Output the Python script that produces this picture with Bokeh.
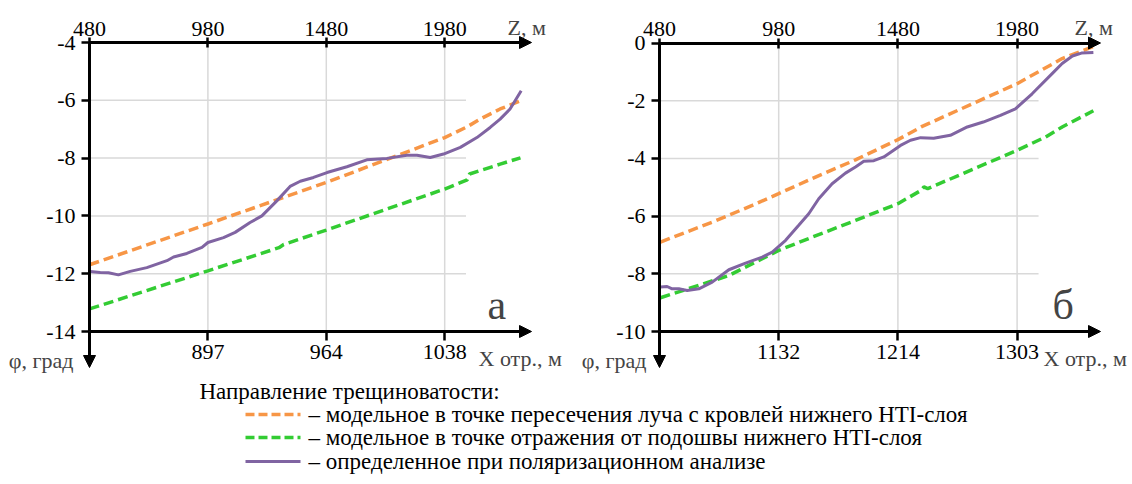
from bokeh.plotting import figure
from bokeh.models import Range1d, LinearAxis, FixedTicker, Label, Arrow, NormalHead
from bokeh.layouts import column, row
from bokeh.embed import file_html
from bokeh.resources import INLINE
from bokeh.core.properties import value

FONT = "Liberation Serif"
ORANGE = "#f79646"
GREEN = "#33cc33"
PURPLE = "#8064a2"
GRID = "#d9d9d9"

# ---- data ----
z_ticks = [480, 980, 1480, 1980]
x_labels_a = ["897", "964", "1038"]
x_labels_b = ["1132", "1214", "1303"]
phi_ticks_a = [-14, -12, -10, -8, -6, -4]
phi_ticks_b = [-10, -8, -6, -4, -2, 0]

a_orange_z = [480, 980, 1480, 1980, 2074, 2130, 2214, 2300]
a_orange_phi = [-11.69, -10.28, -8.84, -7.29, -6.92, -6.65, -6.30, -6.02]

a_green_z = [480, 980, 1280, 1300, 1480, 1980, 2075, 2085, 2214, 2300]
a_green_phi = [-13.22, -11.90, -11.10, -10.99, -10.49, -9.07, -8.75, -8.55, -8.21, -7.99]

a_purple_z = [483, 525, 560, 602, 652, 722, 807, 835, 891, 955, 980, 1046, 1095,
              1158, 1208, 1271, 1327, 1370, 1426, 1483, 1567, 1651, 1736, 1820,
              1863, 1919, 1975, 2046, 2116, 2172, 2214, 2256, 2303]
a_purple_phi = [-11.92, -11.96, -11.97, -12.04, -11.92, -11.79, -11.55, -11.42, -11.30,
                -11.09, -10.92, -10.75, -10.57, -10.23, -10.00, -9.48, -8.98, -8.80,
                -8.67, -8.50, -8.30, -8.06, -8.01, -7.90, -7.90, -7.98, -7.86, -7.63,
                -7.29, -6.94, -6.65, -6.30, -5.67]

b_orange_z = [484, 701, 869, 980, 1120, 1302, 1480, 1582, 1980, 2169, 2300]
b_orange_phi = [-6.90, -6.21, -5.63, -5.22, -4.70, -4.05, -3.35, -2.89, -1.41, -0.54, -0.12]

b_green_z = [484, 645, 771, 980, 1120, 1302, 1480, 1575, 1589, 1605, 1980, 2099, 2169, 2300]
b_green_phi = [-8.83, -8.40, -8.06, -7.19, -6.73, -6.15, -5.57, -5.12, -4.99, -5.05,
               -3.72, -3.26, -2.91, -2.35]

b_purple_z = [484, 512, 533, 561, 596, 645, 701, 771, 841, 911, 953, 1009, 1064, 1106,
              1148, 1204, 1260, 1302, 1337, 1379, 1421, 1491, 1533, 1575, 1630, 1700,
              1771, 1838, 1910, 1973, 2043, 2127, 2169, 2212, 2250, 2300]
b_purple_phi = [-8.46, -8.44, -8.52, -8.52, -8.58, -8.52, -8.29, -7.86, -7.63, -7.42,
                -7.25, -6.84, -6.32, -5.92, -5.40, -4.88, -4.51, -4.30, -4.10, -4.08,
                -3.95, -3.55, -3.37, -3.28, -3.30, -3.20, -2.91, -2.74, -2.51, -2.28,
                -1.76, -1.06, -0.71, -0.45, -0.35, -0.33]

legend_title = "Направление трещиноватости:"
legend_texts = [
    "– модельное в точке пересечения луча с кровлей нижнего HTI-слоя",
    "– модельное в точке отражения от подошвы нижнего HTI-слоя",
    "– определенное при поляризационном анализе",
]

GRID_END = 2070
PANEL_H = 380


def style_axis(ax, tick_in, tick_out, standoff):
    ax.axis_line_width = 3
    ax.axis_line_color = "black"
    ax.major_tick_line_width = 2.5
    ax.major_tick_line_color = "black"
    ax.major_tick_in = tick_in
    ax.major_tick_out = tick_out
    ax.minor_tick_line_color = None
    ax.major_label_text_font = FONT
    ax.major_label_text_font_size = "22px"
    ax.major_label_text_color = "black"
    ax.major_label_standoff = standoff


def make_panel(geo, y_ticks, x_labels, orange, green, purple, letter, pos):
    x0_page, width, axis_px, z_per_px, top_px, px_per_phi = geo
    ymin, ymax = y_ticks[0], y_ticks[-1]

    def Z(px):
        return 480 + (px - axis_px) * z_per_px

    def PHI(py):
        return ymax - (py - top_px) / px_per_phi

    z_tip = Z(pos["tip"])
    p = figure(width=width, height=PANEL_H, min_border=0,
               x_range=Range1d(Z(x0_page), Z(x0_page + width)),
               y_range=Range1d(PHI(PANEL_H), PHI(0)),
               x_axis_type=None, y_axis_type=None, toolbar_location=None,
               output_backend="svg", outline_line_color=None,
               background_fill_color="white", border_fill_color="white")
    inner = y_ticks[1:-1]
    p.segment(x0=[480] * len(inner), y0=inner, x1=[GRID_END] * len(inner), y1=inner,
              line_color=GRID, line_width=1.5)
    vx = z_ticks[1:]
    p.segment(x0=vx, y0=[ymin] * len(vx), x1=vx, y1=[ymax] * len(vx),
              line_color=GRID, line_width=1.5)

    p.line(orange[0], orange[1], line_color=ORANGE, line_width=3.5, line_dash="10 5")
    p.line(green[0], green[1], line_color=GREEN, line_width=3.5, line_dash="10 5")
    p.line(purple[0], purple[1], line_color=PURPLE, line_width=3)

    left = LinearAxis(ticker=FixedTicker(ticks=y_ticks), fixed_location=480,
                      bounds=(ymin, ymax),
                      major_label_overrides={t: str(t) for t in y_ticks})
    style_axis(left, 0, 8, 6)
    top = LinearAxis(ticker=FixedTicker(ticks=z_ticks), fixed_location=ymax,
                     bounds=(480, Z(pos["tip"] - 6)))
    style_axis(top, 5, 5, 2)
    bottom = LinearAxis(ticker=FixedTicker(ticks=z_ticks[1:]), fixed_location=ymin,
                        bounds=(480, Z(pos["tip"] - 6)),
                        major_label_overrides={z: s for z, s in zip(z_ticks[1:], x_labels)})
    style_axis(bottom, 0, 9, 4)
    p.add_layout(left, "left")
    p.add_layout(top, "above")
    p.add_layout(bottom, "below")

    for yy in (ymin, ymax):
        p.add_layout(Arrow(end=NormalHead(size=12, fill_color="black", line_color="black"),
                           x_start=Z(pos["tip"] - 8), y_start=yy, x_end=z_tip, y_end=yy,
                           line_width=3, line_color="black"))
    p.add_layout(Arrow(end=NormalHead(size=12, fill_color="black", line_color="black"),
                       x_start=480, y_start=ymin, x_end=480, y_end=PHI(pos["down_tip"]),
                       line_width=3, line_color="black"))

    p.add_layout(Label(x=Z(pos["zlab"]), y=PHI(27), text="Z, м", text_font=FONT,
                       text_font_size="22px", text_baseline="middle", text_align="left"))
    p.add_layout(Label(x=Z(pos["xlab"]), y=PHI(358), text="X отр., м", text_font=FONT,
                       text_font_size="22px", text_baseline="middle", text_align="left"))
    p.add_layout(Label(x=Z(pos["philab"]), y=PHI(360), text="φ, град", text_font=FONT,
                       text_font_size="22px", text_baseline="middle", text_align="right"))
    p.add_layout(Label(x=Z(pos["letter"][0]), y=PHI(pos["letter"][1]), text=letter,
                       text_font=FONT, text_font_size="42px",
                       text_baseline="alphabetic", text_align="left"))
    return p


# geometry: (page x of canvas, canvas width, page x of phi axis, Z per px, page y of top axis, px per degree)
geo_a = (0, 566, 89, 500 / 118.4, 42, 28.9)
geo_b = (566, 564, 659, 500 / 119.2, 42.5, 28.85)

p1 = make_panel(geo_a, phi_ticks_a, x_labels_a,
                (a_orange_z, a_orange_phi), (a_green_z, a_green_phi), (a_purple_z, a_purple_phi),
                "а", dict(tip=531, down_tip=367, zlab=507, xlab=478, philab=73, letter=(487, 304)))
p2 = make_panel(geo_b, phi_ticks_b, x_labels_b,
                (b_orange_z, b_orange_phi), (b_green_z, b_green_phi), (b_purple_z, b_purple_phi),
                "б", dict(tip=1100, down_tip=367, zlab=1074, xlab=1043, philab=646, letter=(1052, 304)))

# legend panel
LW, LH = 1130, 102
p3 = figure(width=LW, height=LH, x_range=Range1d(0, LW), y_range=Range1d(LH, 0),
            x_axis_type=None, y_axis_type=None, toolbar_location=None,
            output_backend="svg", outline_line_color=None, min_border=0,
            background_fill_color="white", border_fill_color="white")
p3.text(x=[199], y=[11], text=[legend_title], text_font=value(FONT),
        text_font_size="23px", text_baseline="middle", text_color="black")
rows_y = [34, 57, 81]
styles = [(ORANGE, "9 4", 3.5), (GREEN, "9 4", 3.5), (PURPLE, None, 3)]
for yy, (col, dash, w) in zip(rows_y, styles):
    if dash:
        p3.line([245, 300], [yy, yy], line_color=col, line_width=w, line_dash=dash)
    else:
        p3.line([245, 300], [yy, yy], line_color=col, line_width=w)
p3.text(x=[308] * 3, y=rows_y, text=legend_texts, text_font=value(FONT),
        text_font_size="23px", text_baseline="middle", text_color="black")

layout = column(row(p1, p2), p3)
open("out.html", "w").write(file_html(layout, INLINE))
